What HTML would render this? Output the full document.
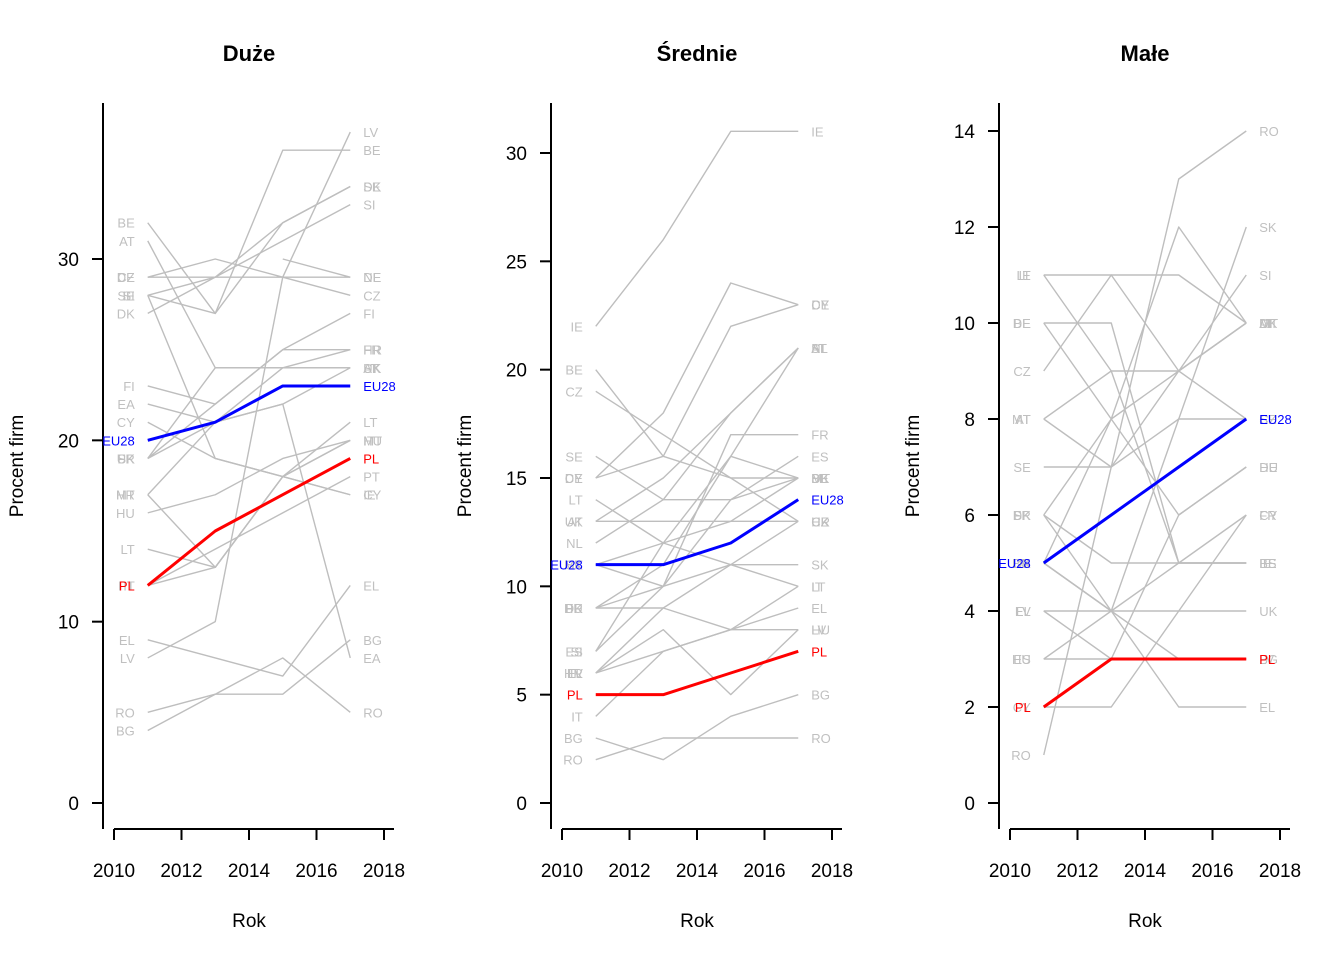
<!DOCTYPE html>
<html><head><meta charset="utf-8">
<style>
html,body{margin:0;padding:0;background:#fff;}
svg{display:block;font-family:"Liberation Sans",Arial,sans-serif;}
</style></head>
<body>
<svg id="chart" width="1344" height="960" viewBox="0 0 1344 960"></svg>
<script>
const years = [2011, 2013, 2015, 2017];
const xTicks = [2010, 2012, 2014, 2016, 2018];
const titles = ["Duże", "Średnie", "Małe"];
const yTicks1 = [0, 10, 20, 30];
const yTicks2 = [0, 5, 10, 15, 20, 25, 30];
const yTicks3 = [0, 2, 4, 6, 8, 10, 12, 14];
const names1 = ["BE","AT","DE","CZ","SE","SI","IE","DK","FI","NL","LV","SK","FR","EA","CY","UK","HR","MT","HU","LT","PT","IT","EL","RO","BG"];
const vals1 = [[32,27,36,36],[31,24,24,24],[29,29,29,29],[29,30,29,28],[28,27,32,34],[28,29,31,33],[28,19,18,17],[27,29,32,34],[23,22,25,27],[null,null,30,29],[8,10,29,37],[19,24,24,24],[19,22,25,25],[22,21,22,8],[21,19,18,17],[19,21,22,24],[17,21,24,25],[17,13,18,20],[16,17,19,20],[14,13,18,21],[12,14,16,18],[12,13,18,20],[9,8,7,12],[5,6,8,5],[4,6,6,9]];
const pl1 = [12,15,17,19];
const eu1 = [20,21,23,23];
const names2 = ["IE","DE","CY","BE","CZ","SE","LT","UK","NL","AT","MT","SK","FR","DK","HU","ES","SI","LV","EL","HR","IT","BG","RO"];
const vals2 = [[22,26,31,31],[15,18,24,23],[15,16,22,23],[20,16,15,15],[19,17,15,13],[16,14,14,15],[14,12,11,10],[13,13,13,13],[12,14,18,21],[13,15,18,21],[11,12,13,15],[11,10,11,11],[9,10,17,17],[9,11,16,15],[9,9,8,8],[7,10,14,16],[7,12,16,21],[6,8,5,8],[6,7,8,9],[6,9,11,13],[4,7,8,10],[3,2,4,5],[2,3,3,3]];
const pl2 = [5,5,6,7];
const eu2 = [11,11,12,14];
const names3 = ["RO","LT","IE","BE","DE","CZ","AT","MT","SE","DK","FR","BG","SI","EL","LV","ES","HU","CY","SK","UK"];
const vals3 = [[1,7,13,14],[11,11,11,10],[11,9,5,5],[10,10,5,5],[10,8,6,7],[9,11,9,8],[8,9,9,10],[8,7,9,10],[7,7,8,8],[6,8,12,10],[6,5,5,6],[5,4,3,3],[5,8,9,11],[4,4,2,2],[4,3,3,3],[3,4,5,5],[3,3,6,7],[2,2,4,6],[6,4,8,12],[5,4,4,4]];
const pl3 = [2,3,3,3];
const eu3 = [5,6,7,8];

const panels = [
  {off:0, ppu:18.133, ticks:yTicks1, names:names1, vals:vals1, pl:pl1, eu:eu1},
  {off:448, ppu:21.667, ticks:yTicks2, names:names2, vals:vals2, pl:pl2, eu:eu2},
  {off:896, ppu:48.0, ticks:yTicks3, names:names3, vals:vals3, pl:pl3, eu:eu3}
];
const NS = "http://www.w3.org/2000/svg";
const svg = document.getElementById("chart");
function mk(tag, attrs, parent, text){
  const e = document.createElementNS(NS, tag);
  for (const k in attrs) e.setAttribute(k, attrs[k]);
  if (text !== undefined) e.textContent = text;
  parent.appendChild(e);
  return e;
}
panels.forEach((p, pi) => {
  const g = mk("g", {}, svg);
  
  
  const xs = yr => p.off + 114 + (yr - 2010) * 33.75;
  const ys = v => 803 - v * p.ppu;
  const cx = p.off + 249;
  const t = mk("text", {x:cx, y:61, "text-anchor":"middle", "font-size":"22", "font-weight":"bold"}, g, titles[pi]);
  
  
  // axes
  const ya = mk("line", {x1:p.off+103, y1:103, x2:p.off+103, y2:829, stroke:"#000", "stroke-width":"2"}, g);
  
  
  p.ticks.forEach(v => {
    const tk = mk("line", {x1:p.off+92, y1:ys(v), x2:p.off+103, y2:ys(v), stroke:"#000", "stroke-width":"2"}, g);
    
    
    const tl = mk("text", {x:p.off+79, y:ys(v)+7, "text-anchor":"end", "font-size":"19"}, g, String(v));
    
    
  });
  const xa = mk("line", {x1:xs(2010), y1:829, x2:p.off+394, y2:829, stroke:"#000", "stroke-width":"2"}, g);
  
  
  xTicks.forEach(yr => {
    const tk = mk("line", {x1:xs(yr), y1:829, x2:xs(yr), y2:840, stroke:"#000", "stroke-width":"2"}, g);
    
    
    const tl = mk("text", {x:xs(yr), y:877, "text-anchor":"middle", "font-size":"19"}, g, String(yr));
    
    
  });
  const xt = mk("text", {x:cx, y:927, "text-anchor":"middle", "font-size":"19"}, g, "Rok");
  
  
  const yt = mk("text", {x:0, y:0, "text-anchor":"middle", "font-size":"19", transform:"translate(" + (p.off+23) + ",466) rotate(-90)"}, g, "Procent firm");
  
  
  function series(vals, name, color, width){
    const pts = [];
    vals.forEach((v, i) => { if (v !== null) pts.push([xs(years[i]), ys(v)]); });
    const pl = mk("polyline", {points:pts.map(q => q.join(",")).join(" "), fill:"none", stroke:color, "stroke-width":width, "stroke-linejoin":"round"}, g);
    
    
    if (vals[0] !== null) {
      const l = mk("text", {x:xs(2011)-13, y:ys(vals[0])+5, "text-anchor":"end", "font-size":"13", fill:color === "#bebebe" ? "#c0c0c0" : color}, g, name);
      
      
    }
    const r = mk("text", {x:xs(2017)+13, y:ys(vals[3])+5, "text-anchor":"start", "font-size":"13", fill:color === "#bebebe" ? "#c0c0c0" : color}, g, name);
    
    
  }
  p.vals.forEach((v, i) => series(v, p.names[i], "#bebebe", 1.4));
  series(p.pl, "PL", "#ff0000", 3);
  series(p.eu, "EU28", "#0000ff", 3);
});
</script>
</body></html>
